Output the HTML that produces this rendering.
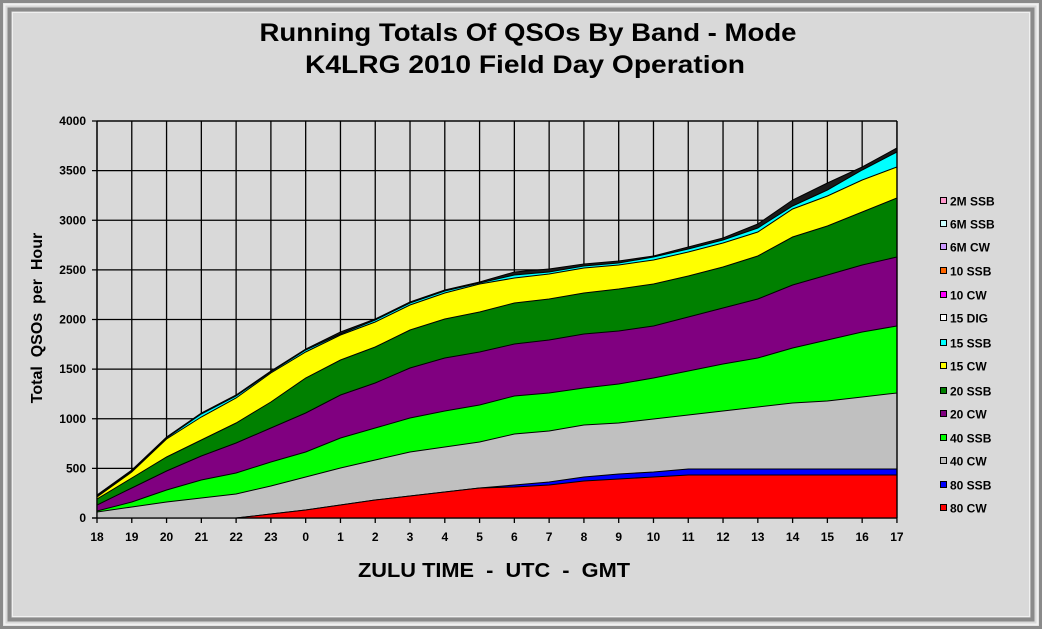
<!DOCTYPE html>
<html><head><meta charset="utf-8"><style>
html,body{margin:0;padding:0;background:#d9d9d9;}
svg{display:block;font-family:"Liberation Sans",Arial,sans-serif;}
</style></head><body>
<svg width="1042" height="629" viewBox="0 0 1042 629" xmlns="http://www.w3.org/2000/svg">
<rect x="0" y="0" width="1042" height="629" fill="#d9d9d9"/>
<rect x="1.5" y="1.5" width="1039" height="626" fill="none" stroke="#8a8a8a" stroke-width="3"/>
<rect x="4.5" y="4.5" width="1033" height="620" fill="none" stroke="#f0f0f0" stroke-width="2"/>
<rect x="9.5" y="9.5" width="1023" height="610" fill="none" stroke="#8a8a8a" stroke-width="4"/>
<rect x="12.5" y="12.5" width="1017" height="604" fill="none" stroke="#f0f0f0" stroke-width="1"/>
<text x="528" y="41" text-anchor="middle" font-size="25" font-weight="bold" textLength="537" lengthAdjust="spacingAndGlyphs">Running Totals Of QSOs By Band - Mode</text>
<text x="525" y="73" text-anchor="middle" font-size="25" font-weight="bold" textLength="440" lengthAdjust="spacingAndGlyphs">K4LRG 2010 Field Day Operation</text>
<g stroke="#000" stroke-width="1.3" id="grid"></g>
<g id="areas"></g>
<g id="axes"></g>
<g id="legend" font-size="12" font-weight="bold"></g>
<text transform="translate(42,318) rotate(-90)" text-anchor="middle" font-size="16" font-weight="bold" xml:space="preserve" style="white-space:pre">Total  QSOs  per  Hour</text>
<text x="494" y="577" text-anchor="middle" font-size="20" font-weight="bold" xml:space="preserve" style="white-space:pre" textLength="272" lengthAdjust="spacingAndGlyphs">ZULU TIME  -  UTC  -  GMT</text>
<script>
var NS="http://www.w3.org/2000/svg";
function el(p,t,a,txt){var e=document.createElementNS(NS,t);for(var k in a)e.setAttribute(k,a[k]);if(txt!=null)e.textContent=txt;document.getElementById(p).appendChild(e);return e;}
var X=function(i){return 97+34.78*i;};
var Y0=518,YT=121;
for(var v=0;v<=8;v++){var y=Y0-(Y0-YT)*v/8;el("grid","line",{x1:92,x2:897,y1:y,y2:y});
 el("axes","text",{x:86,y:y+4,"text-anchor":"end","font-size":"12","font-weight":"bold"},String(v*500));}
var labs=[18,19,20,21,22,23,0,1,2,3,4,5,6,7,8,9,10,11,12,13,14,15,16,17];
for(var i=0;i<24;i++){el("grid","line",{x1:X(i),x2:X(i),y1:YT,y2:Y0+5});
 el("axes","text",{x:X(i),y:541,"text-anchor":"middle","font-size":"12","font-weight":"bold"},String(labs[i]));}
var S=[
["#1a1a1a",[495,470,437,413,395,371,349,332,319,302,290,282,272,269,264,261,256,247,238,224,200,183,167,148]],
["#00ffff",[496,471,438,414,396,372,350,334,320,303,291,283,275,272,266,263,257,249,240,228,206,190,170,152]],
["#ffff00",[497,472,439,417,398,373,352,335,322,305,293,284,278,274,268,265,260,252,243,232,209,196,180,167]],
["#008000",[499,478,457,440,423,402,378,360,347,330,319,312,303,299,293,289,284,276,267,256,237,226,212,198]],
["#800080",[505,488,471,456,443,428,413,395,383,368,358,352,344,340,334,331,326,317,308,299,285,275,265,257]],
["#00ff00",[511,502,490,480,473,462,452,438,428,418,411,405,396,393,388,384,378,371,364,358,348,340,332,326]],
["#c0c0c0",[512,507,502,498,494,486,477,468,460,452,447,442,434,431,425,423,419,415,411,407,403,401,397,393]],
["#0000ff",[518,518,518,518,518,514,510,505,500,496,492,488,485,482,477,474,472,469,469,469,469,469,469,469]],
["#ff0000",[518,518,518,518,518,514,510,505,500,496,492,488,487,485,481,479,477,475,475,475,475,475,475,475]]
];
S.forEach(function(s){var p=X(0)+","+Y0;for(var i=0;i<24;i++)p+=" "+X(i).toFixed(1)+","+s[1][i];p+=" "+X(23)+","+Y0;
 el("areas","polygon",{points:p,fill:s[0],stroke:"#000","stroke-width":"1"});});
el("axes","line",{x1:97,x2:97,y1:YT,y2:Y0,stroke:"#000","stroke-width":"1.3"});
el("axes","line",{x1:92,x2:897,y1:Y0,y2:Y0,stroke:"#000","stroke-width":"1.3"});
el("axes","line",{x1:897,x2:897,y1:YT,y2:Y0,stroke:"#000","stroke-width":"1.3"});
el("axes","line",{x1:97,x2:897,y1:YT,y2:YT,stroke:"#000","stroke-width":"1.3"});
var L=[["2M SSB","#ff99cc"],["6M SSB","#ccffff"],["6M CW","#cc99ff"],["10 SSB","#ff6600"],["10 CW","#ff00ff"],["15 DIG","#ffffff"],["15 SSB","#00ffff"],["15 CW","#ffff00"],["20 SSB","#008000"],["20 CW","#800080"],["40 SSB","#00ff00"],["40 CW","#c0c0c0"],["80 SSB","#0000ff"],["80 CW","#ff0000"]];
var ly=[201,224,247,271,295,318,343,366,391,414,438,461,485,508];
L.forEach(function(l,k){el("legend","rect",{x:940.5,y:ly[k]-3.5,width:6,height:6,fill:l[1],stroke:"#000","stroke-width":"1"});
 el("legend","text",{x:950,y:ly[k]+4.5},l[0]);});
</script>
</svg>
</body></html>
